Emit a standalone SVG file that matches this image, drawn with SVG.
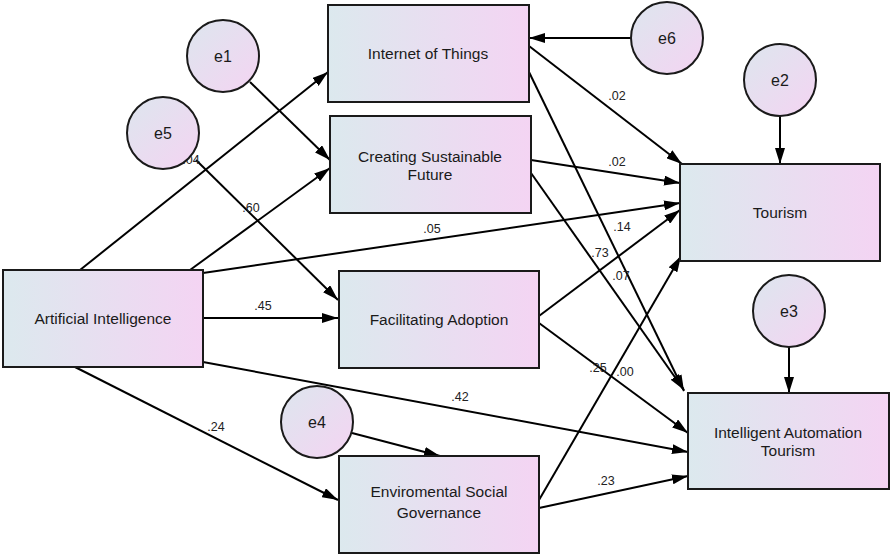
<svg xmlns="http://www.w3.org/2000/svg" width="892" height="555" viewBox="0 0 892 555">
<defs>
<linearGradient id="boxg" x1="0" y1="0" x2="1" y2="0">
<stop offset="0" stop-color="#dce9ee"/>
<stop offset="1" stop-color="#f4d4f3"/>
</linearGradient>
<linearGradient id="circg" x1="0" y1="0" x2="1" y2="1">
<stop offset="0" stop-color="#dde6ee"/>
<stop offset="1" stop-color="#f4d4f2"/>
</linearGradient>
<marker id="ah" markerUnits="userSpaceOnUse" markerWidth="16" markerHeight="10" refX="16" refY="5" orient="auto">
<path d="M0,0 L16,5 L0,10 z" fill="#000"/>
</marker>
</defs>
<style>
.box{fill:url(#boxg);stroke:#1a1a1a;stroke-width:2}
.circ{fill:url(#circg);stroke:#1a1a1a;stroke-width:2}
.lbl{font-family:"Liberation Sans",Arial,sans-serif;font-size:15.5px;fill:#1a1a1a;text-anchor:middle}
.clbl{font-family:"Liberation Sans",Arial,sans-serif;font-size:16px;fill:#1a1a1a;text-anchor:middle}
.num{font-family:"Liberation Sans",Arial,sans-serif;font-size:12.5px;fill:#222;text-anchor:middle}
.c line{stroke:#000;stroke-width:2;marker-end:url(#ah)}
</style>
<g id="connectors" class="c">
<line x1="80" y1="270" x2="328" y2="72"/>
<line x1="190" y1="270" x2="330" y2="168"/>
<line x1="250" y1="82" x2="330" y2="160"/>
<line x1="196" y1="160" x2="338" y2="300"/>
<line x1="203" y1="318" x2="338" y2="318"/>
<line x1="203" y1="273" x2="680" y2="203"/>
<line x1="203" y1="362" x2="688" y2="452"/>
<line x1="75" y1="367" x2="338" y2="500"/>
<line x1="352" y1="433" x2="440" y2="456"/>
<line x1="529" y1="46" x2="682" y2="164"/>
<line x1="529" y1="72" x2="684" y2="391"/>
<line x1="531" y1="160" x2="680" y2="183"/>
<line x1="531" y1="173" x2="684" y2="390"/>
<line x1="539" y1="316" x2="680" y2="210"/>
<line x1="539" y1="323" x2="688" y2="433"/>
<line x1="539" y1="500" x2="681" y2="256"/>
<line x1="539" y1="508" x2="688" y2="476"/>
<line x1="631" y1="38" x2="529" y2="38"/>
<line x1="780" y1="116" x2="780" y2="164"/>
<line x1="789" y1="347" x2="789" y2="393"/>
</g>
<g id="labels">
<text class="num" x="191" y="164">.04</text>
<text class="num" x="251" y="212">.60</text>
<text class="num" x="263" y="310">.45</text>
<text class="num" x="432" y="233">.05</text>
<text class="num" x="460" y="401">.42</text>
<text class="num" x="216" y="431">.24</text>
<text class="num" x="617" y="100">.02</text>
<text class="num" x="617" y="166">.02</text>
<text class="num" x="622" y="231">.14</text>
<text class="num" x="600" y="257">.73</text>
<text class="num" x="621" y="280">.07</text>
<text class="num" x="598" y="372">.25</text>
<text class="num" x="625" y="376">.00</text>
<text class="num" x="606" y="485">.23</text>
</g>
<g id="ai"><rect class="box" x="3" y="270" width="200" height="97"/><text class="lbl" x="103" y="324">Artificial Intelligence</text></g>
<g id="iot"><rect class="box" x="328" y="5" width="201" height="97"/><text class="lbl" x="428" y="59">Internet of Things</text></g>
<g id="csf"><rect class="box" x="330" y="116" width="201" height="97"/><text class="lbl" x="430" y="162">Creating Sustainable</text><text class="lbl" x="430" y="180">Future</text></g>
<g id="fa"><rect class="box" x="339" y="271" width="200" height="97"/><text class="lbl" x="439" y="325">Facilitating Adoption</text></g>
<g id="esg"><rect class="box" x="339" y="456" width="200" height="97"/><text class="lbl" x="439" y="497">Enviromental Social</text><text class="lbl" x="439" y="518">Governance</text></g>
<g id="tourism"><rect class="box" x="680" y="164" width="200" height="97"/><text class="lbl" x="780" y="218">Tourism</text></g>
<g id="iat"><rect class="box" x="688" y="393" width="201" height="96"/><text class="lbl" x="788" y="438">Intelligent Automation</text><text class="lbl" x="788" y="456">Tourism</text></g>
<g id="e1"><circle class="circ" cx="223" cy="56" r="36"/><text class="clbl" x="223" y="62">e1</text></g>
<g id="e5"><circle class="circ" cx="163" cy="133" r="36"/><text class="clbl" x="163" y="139">e5</text></g>
<g id="e6"><circle class="circ" cx="667" cy="38" r="36"/><text class="clbl" x="667" y="44">e6</text></g>
<g id="e2"><circle class="circ" cx="780" cy="80" r="36"/><text class="clbl" x="780" y="86">e2</text></g>
<g id="e3"><circle class="circ" cx="789" cy="311" r="36"/><text class="clbl" x="789" y="317">e3</text></g>
<g id="e4"><circle class="circ" cx="317" cy="422" r="36"/><text class="clbl" x="317" y="428">e4</text></g>
</svg>
